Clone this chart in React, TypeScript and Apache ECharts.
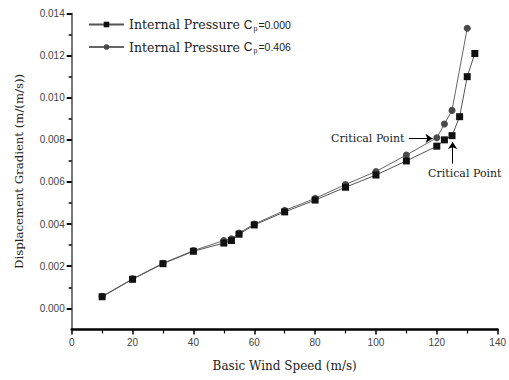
import React, { useEffect, useRef } from "react";
import * as echarts from "echarts";

const squareX = [10, 20, 30, 40, 50, 52.5, 55, 60, 70, 80, 90, 100, 110, 120, 122.5, 125, 127.5, 130, 132.5];
const squareY = [0.00055, 0.00138, 0.00212, 0.00271, 0.0031, 0.00322, 0.00352, 0.00396, 0.00458, 0.00514, 0.00575, 0.00633, 0.007, 0.0077, 0.008, 0.0082, 0.0091, 0.011, 0.0121];
const circleX = [10, 20, 30, 40, 50, 52.5, 55, 60, 70, 80, 90, 100, 110, 120, 122.5, 125, 130];
const circleY = [0.00057, 0.0014, 0.00214, 0.00274, 0.00322, 0.0033, 0.00358, 0.004, 0.00465, 0.00522, 0.00588, 0.0065, 0.00728, 0.0081, 0.00875, 0.0094, 0.0133];

const seriesNames = ["cp0", "cp406"];
const legendLabels = ["0.000", "0.406"];

const yMajorTicks = [0, 0.002, 0.004, 0.006, 0.008, 0.01, 0.012, 0.014];
const yMinorTicks = [0.001, 0.003, 0.005, 0.007, 0.009, 0.011, 0.013];

// annotation arrows in data coordinates: [from, to]
const arrow1 = [[110.8, 0.00807], [118.6, 0.00807]];
const arrow2 = [[125.2, 0.00687], [125.2, 0.0079]];
const labelPoint1 = [110.2, 0.00807];
const labelPoint2 = [129.2, 0.00638];
const annotationText = "Critical Point";

export default function App() {
  const ref = useRef<HTMLDivElement>(null);
  useEffect(() => {
    if (!ref.current) return;
    const chart = echarts.init(ref.current, null, { renderer: "svg" });
    const sans = "'Liberation Sans', Arial, sans-serif";
    const wideSerif = "'DejaVu Serif', serif";
    chart.setOption({
      animation: false,
      backgroundColor: "#fff",
      grid: { left: 71.7, right: 9.7, top: 13.5, bottom: 50.6, containLabel: false },
      legend: {
        left: 88,
        top: 18,
        orient: "vertical",
        padding: 0,
        itemGap: 9,
        itemWidth: 35,
        itemHeight: 7,
        data: seriesNames,
        formatter: (name: string) => {
          const i = seriesNames.indexOf(name);
          return `{a|Internal Pressure }{b|C}{s|p}{c|=${legendLabels[i]}}`;
        },
        textStyle: {
          rich: {
            a: { fontFamily: wideSerif, fontSize: 12.5, color: "#222" },
            b: { fontFamily: sans, fontSize: 12, color: "#222" },
            s: { fontFamily: sans, fontSize: 7, color: "#222", padding: [7, 1, 0, 1] },
            c: { fontFamily: sans, fontSize: 10.5, color: "#222" },
          },
        },
      },
      xAxis: {
        type: "value",
        min: 0,
        max: 140,
        interval: 20,
        name: "Basic Wind Speed (m/s)",
        nameLocation: "middle",
        nameGap: 31,
        nameTextStyle: { fontFamily: wideSerif, fontSize: 12, color: "#222" },
        axisLine: { show: true, onZero: false, lineStyle: { color: "#000", width: 2.5 } },
        axisTick: { show: true, inside: false, length: 5, lineStyle: { color: "#000", width: 1.5 } },
        minorTick: { show: true, splitNumber: 2, length: 4, lineStyle: { color: "#000", width: 1.2 } },
        splitLine: { show: false },
        minorSplitLine: { show: false },
        axisLabel: { color: "#444", fontFamily: sans, fontSize: 10, margin: 8 },
      },
      yAxis: [
        {
          type: "value",
          min: -0.001,
          max: 0.014,
          interval: 0.001,
          name: "Displacement Gradient (m/(m/s))",
          nameLocation: "middle",
          nameGap: 47,
          nameTextStyle: { fontFamily: wideSerif, fontSize: 11.7, color: "#222" },
          axisLine: { show: true, lineStyle: { color: "#777", width: 2 } },
          axisTick: { show: true, length: 5, customValues: yMajorTicks, lineStyle: { color: "#000", width: 2 } },
          splitLine: { show: false },
          axisLabel: {
            color: "#444",
            fontFamily: sans,
            fontSize: 10,
            margin: 7,
            customValues: yMajorTicks,
            formatter: (v: number) => v.toFixed(3),
          },
        },
        {
          type: "value",
          min: -0.001,
          max: 0.014,
          interval: 0.001,
          position: "left",
          axisLine: { show: false },
          axisTick: { show: true, length: 3, customValues: yMinorTicks, lineStyle: { color: "#000", width: 1.5 } },
          axisLabel: { show: false },
          splitLine: { show: false },
        },
      ],
      series: [
        {
          name: seriesNames[0],
          type: "line",
          data: squareX.map((x, i) => [x, squareY[i]]),
          symbol: "rect",
          symbolSize: 7,
          itemStyle: { color: "#111" },
          lineStyle: { color: "#555", width: 1 },
          z: 3,
          markLine: {
            silent: true,
            symbol: ["none", "arrow"],
            symbolSize: 7,
            label: { show: false },
            lineStyle: { color: "#000", width: 1, type: "solid" },
            data: [
              [{ coord: arrow1[0] }, { coord: arrow1[1] }],
              [{ coord: arrow2[0] }, { coord: arrow2[1] }],
            ],
          },
          markPoint: {
            silent: true,
            symbol: "circle",
            symbolSize: 1,
            itemStyle: { color: "rgba(0,0,0,0)" },
            label: { show: true, fontFamily: wideSerif, fontSize: 11, color: "#222", formatter: annotationText },
            data: [
              { coord: labelPoint1, label: { position: "left", distance: 2 } },
              { coord: labelPoint2, label: { position: "inside" } },
            ],
          },
        },
        {
          name: seriesNames[1],
          type: "line",
          data: circleX.map((x, i) => [x, circleY[i]]),
          symbol: "circle",
          symbolSize: 7,
          itemStyle: { color: "#4a4a4a" },
          lineStyle: { color: "#666", width: 1 },
          z: 2,
        },
      ],
    });
    return () => chart.dispose();
  }, []);
  return (
    <div
      ref={ref}
      style={{ position: "fixed", left: 0, top: 0, width: 509, height: 380, background: "#fff" }}
    />
  );
}
